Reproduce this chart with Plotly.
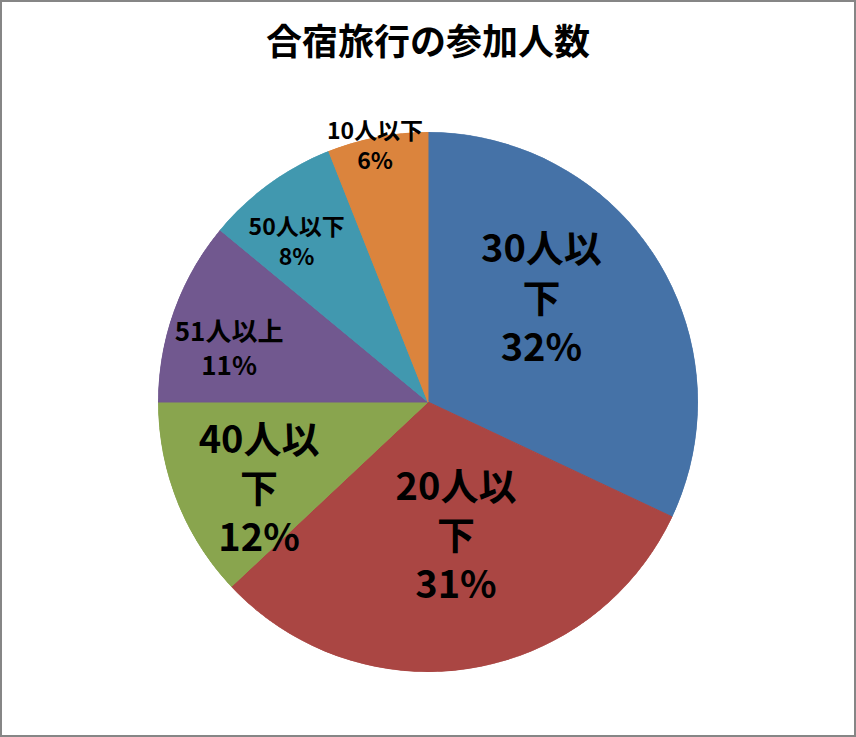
import plotly.graph_objects as go

# data
labels = ["30人以下", "20人以下", "40人以下", "51人以上", "50人以下", "10人以下"]
shares = [32, 31, 12, 11, 8, 6]
# how the labels wrap inside each slice
label_lines = ["30人以<br>下", "20人以<br>下", "40人以<br>下", "51人以上", "50人以下", "10人以下"]

# styling
colors = ["#4572A7", "#AA4643", "#89A54E", "#71588F", "#4198AF", "#DB843D"]
font_sizes = [38, 38, 38, 26, 23, 23]
label_radius = [0.56, 0.52, 0.71, 0.76, 0.76, 0.96]
label_nudge = [-9, -2.5, -6.6, -5.6, -3.8, -1]

FONT = "Noto Sans CJK JP"

# slice geometry in degrees (clockwise from 12 o'clock)
widths = [s * 3.6 for s in shares]
starts = []
acc = 0
for w in widths:
    starts.append(acc)
    acc += w
mids = [st + w / 2 for st, w in zip(starts, widths)]

fig = go.Figure()

fig.add_trace(
    go.Barpolar(
        r=[1] * len(shares),
        theta=mids,
        width=widths,
        base=0,
        marker={"color": colors, "line": {"color": colors, "width": 1}},
        text=labels,
        hoverinfo="text",
        showlegend=False,
    )
)

fig.add_trace(
    go.Scatterpolar(
        r=label_radius,
        theta=[m + n for m, n in zip(mids, label_nudge)],
        mode="text",
        text=[f"{l}<br>{s}%" for l, s in zip(label_lines, shares)],
        textposition="middle center",
        textfont={"family": FONT, "size": font_sizes, "color": "#000000", "weight": "bold"},
        hoverinfo="skip",
        showlegend=False,
    )
)

fig.update_layout(
    width=856,
    height=737,
    margin={"l": 0, "r": 0, "t": 0, "b": 0},
    paper_bgcolor="#FFFFFF",
    font={"family": FONT},
    title={
        "text": "合宿旅行の参加人数",
        "x": 0.5,
        "xanchor": "center",
        "y": 0.943,
        "yanchor": "middle",
        "font": {"family": FONT, "size": 36, "color": "#000000", "weight": "bold"},
    },
    polar={
        "domain": {"x": [0.1846, 0.8154], "y": [0.0882, 0.8209]},
        "bgcolor": "rgba(0,0,0,0)",
        "bargap": 0,
        "angularaxis": {"rotation": 90, "direction": "clockwise", "visible": False},
        "radialaxis": {"range": [0, 1], "visible": False},
    },
    shapes=[
        {
            "type": "rect", "xref": "paper", "yref": "paper",
            "x0": 0, "x1": 1, "y0": 0, "y1": 1,
            "line": {"color": "#868686", "width": 4},
        }
    ],
)

# the page body has a default 8px margin; drop it so the figure fills the window
fig.write_html(
    "out.html",
    config={"displayModeBar": False},
    post_script="document.body.style.margin = '0';",
)
